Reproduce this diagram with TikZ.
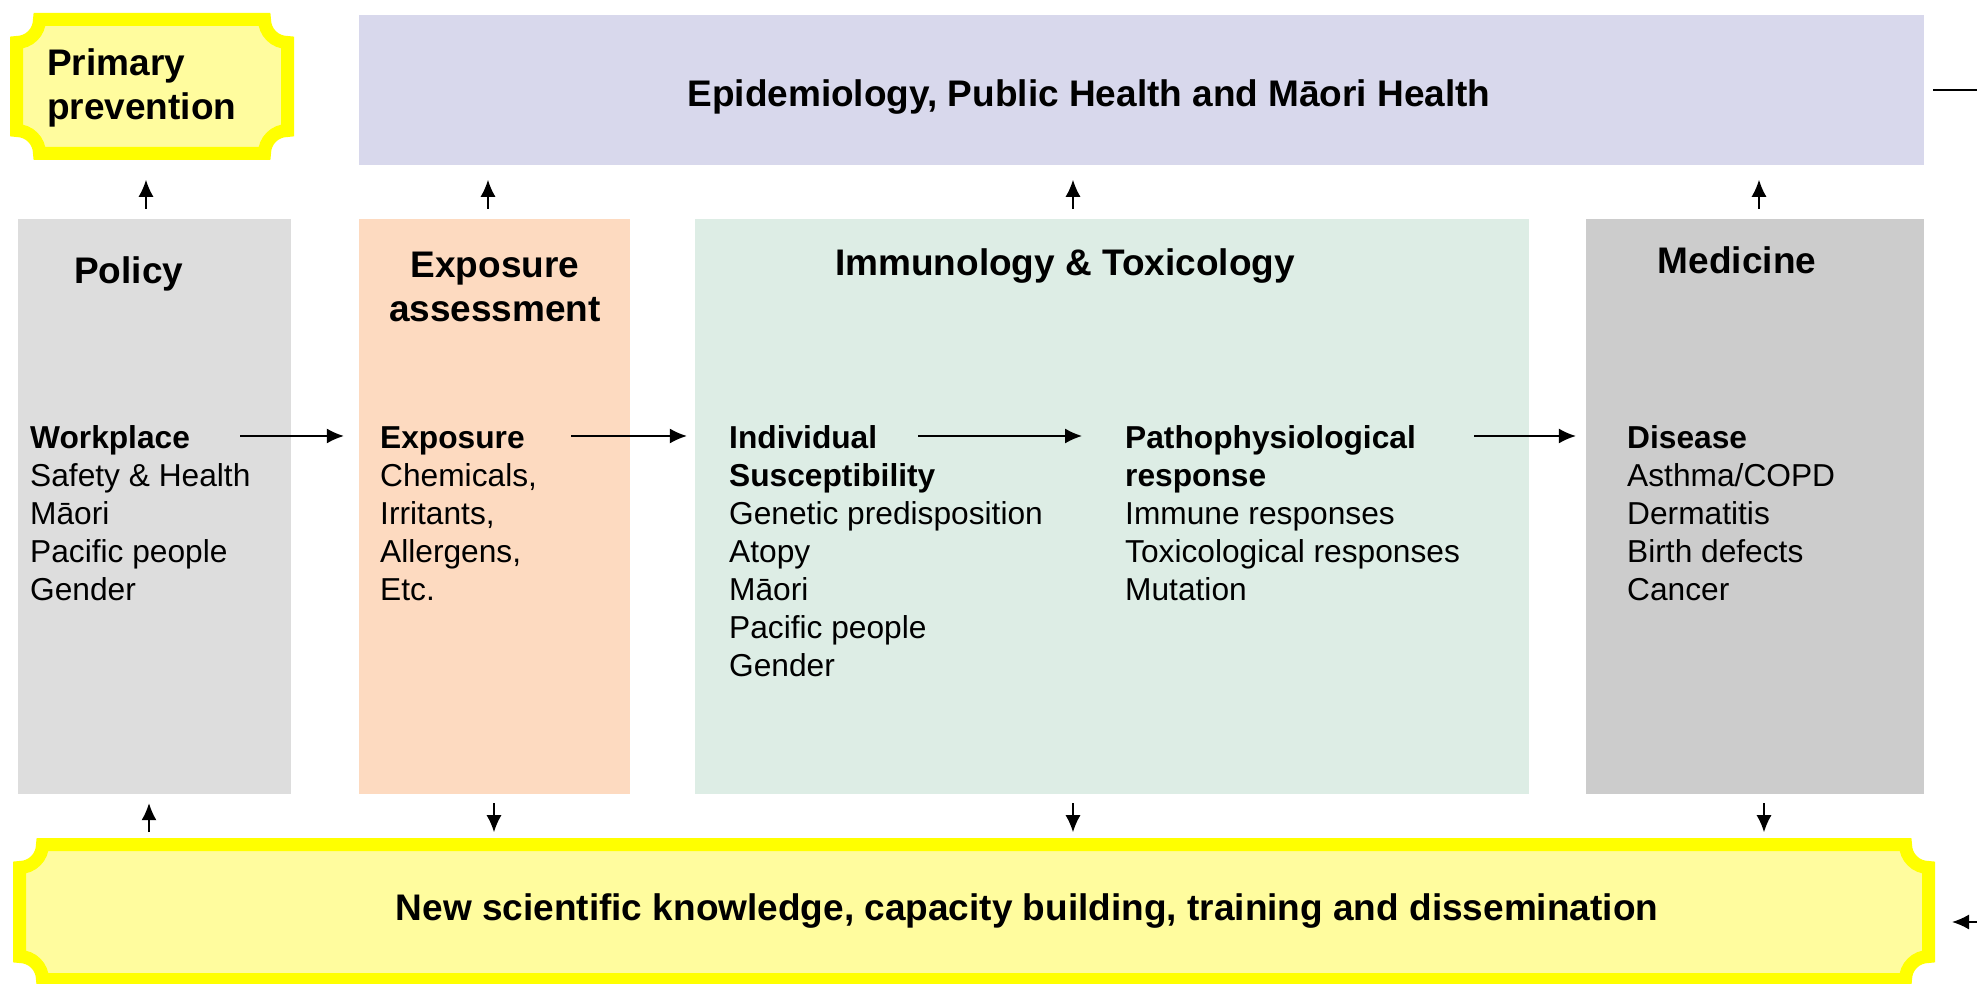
\documentclass[tikz,border=0pt]{standalone}
\usepackage{fontspec}
\setmainfont{Liberation Sans}
\definecolor{ohlav}{RGB}{216, 216, 236}
\definecolor{ohgray}{RGB}{221, 221, 221}
\definecolor{ohpeach}{RGB}{253, 218, 192}
\definecolor{ohmint}{RGB}{221, 237, 229}
\definecolor{ohdark}{RGB}{204, 204, 204}
\definecolor{ohyellow}{RGB}{255, 255, 0}
\definecolor{ohcream}{RGB}{255, 252, 158}
\usepackage{tikz}
\usetikzlibrary{arrows.meta}

\begin{document}
\begin{tikzpicture}[x=1pt, y=1pt,
    panel/.style={rectangle, inner sep=0pt, minimum height=575pt},
    plaque/.style={draw=ohyellow, fill=ohcream, line width=13pt},
    ttl/.style={font=\fontsize{37}{44}\selectfont\bfseries, inner sep=0pt, align=center},
    body/.style={font=\fontsize{31.7}{38}\selectfont, inner sep=0pt, align=left, anchor=base west},
    arr/.style={-{Latex[length=17pt, width=15pt]}, line width=1.5pt}
  ]
    \useasboundingbox (0,0) rectangle (1977,983);

    % top band and the two yellow plaques
    \node[rectangle, fill=ohlav, minimum width=1565pt, minimum height=150pt, inner sep=0pt] (epi) at (1141.5, 893) {};
    \draw[plaque] (39.5,829.5) -- (264.5,829.5) arc[start angle=180, end angle=90, radius=23]
      -- (287.5,940.5) arc[start angle=270, end angle=180, radius=23]
      -- (39.5,963.5) arc[start angle=0, end angle=-90, radius=23]
      -- (16.5,852.5) arc[start angle=90, end angle=0, radius=23] -- cycle;
    \draw[plaque] (42.5,3.5) -- (1905.5,3.5) arc[start angle=180, end angle=90, radius=23]
      -- (1928.5,115.5) arc[start angle=270, end angle=180, radius=23]
      -- (42.5,138.5) arc[start angle=0, end angle=-90, radius=23]
      -- (19.5,26.5) arc[start angle=90, end angle=0, radius=23] -- cycle;

    % the four columns
    \node[panel, fill=ohgray,  minimum width=273pt] (policy) at (154.5, 476.5) {};
    \node[panel, fill=ohpeach, minimum width=271pt] (expo)   at (494.5, 476.5) {};
    \node[panel, fill=ohmint,  minimum width=834pt] (immun)  at (1112, 476.5)  {};
    \node[panel, fill=ohdark,  minimum width=338pt] (medic)  at (1755, 476.5)  {};

    % titles (base = last line)
    \node[ttl, anchor=base] (epit) at (1089, 876.5) {Epidemiology, Public Health and Māori Health};
    \node[ttl, anchor=base west, align=left] (prev) at (47, 863.5) {Primary\\prevention};
    \node[ttl, anchor=base west] (polt) at (74, 699.5) {Policy};
    \node[ttl, anchor=base] (expt) at (495, 661) {Exposure\\assessment};
    \node[ttl, anchor=base] (immt) at (1065, 707.5) {Immunology \& Toxicology};
    \node[ttl, anchor=base] (medt) at (1737, 709.5) {Medicine};
    \node[ttl, anchor=base] (banner) at (1027, 62.5) {New scientific knowledge, capacity building, training and dissemination};

    % column texts
    \node[body] (work)  at (30, 382.5)   {\textbf{Workplace}\\Safety \& Health\\Māori\\Pacific people\\Gender};
    \node[body] (expos) at (380, 382.5)  {\textbf{Exposure}\\Chemicals,\\Irritants,\\Allergens,\\Etc.};
    \node[body] (indiv) at (729, 306.5)  {\textbf{Individual}\\\textbf{Susceptibility}\\Genetic predisposition\\Atopy\\Māori\\Pacific people\\Gender};
    \node[body] (patho) at (1125, 382.5) {\textbf{Pathophysiological}\\\textbf{response}\\Immune responses\\Toxicological responses\\Mutation};
    \node[body] (dis)   at (1627, 382.5) {\textbf{Disease}\\Asthma/COPD\\Dermatitis\\Birth defects\\Cancer};

    % chain along the middle
    \draw[arr] ([shift={(-51,70.5)}]policy.east) -- ([shift={(-15,70.5)}]expo.west);
    \draw[arr] ([shift={(-59,70.5)}]expo.east) -- ([shift={(-8,70.5)}]immun.west);
    \draw[arr] ([shift={(189,240.5)}]indiv.base west) -- ([shift={(-43,164.5)}]patho.base west);
    \draw[arr] ([shift={(349,164.5)}]patho.base west) -- ([shift={(-10,70.5)}]medic.west);

    % up to the top band
    \draw[arr] ([shift={(-8.5,10)}]policy.north) -- ++(0,29);
    \draw[arr] ([shift={(-6.5,10)}]expo.north) -- ++(0,29);
    \draw[arr] ([shift={(-39,10)}]immun.north) -- ++(0,29);
    \draw[arr] ([shift={(4,10)}]medic.north) -- ++(0,29);

    % to and from the banner
    \draw[arr] ([shift={(-5.5,-38)}]policy.south) -- ++(0,29);
    \draw[arr] ([shift={(-0.5,-9)}]expo.south) -- ++(0,-29);
    \draw[arr] ([shift={(-39,-9)}]immun.south) -- ++(0,-29);
    \draw[arr] ([shift={(9,-9)}]medic.south) -- ++(0,-29);

    % loose ends at the right edge
    \coordinate (feedin) at (1977, 61);
    \coordinate (feedtip) at (1952, 61);
    \draw[line width=2pt] ([xshift=9pt]epi.east) -- ++(44,0);
    \draw[arr] (feedin) -- (feedtip);
  \end{tikzpicture}
\end{document}
